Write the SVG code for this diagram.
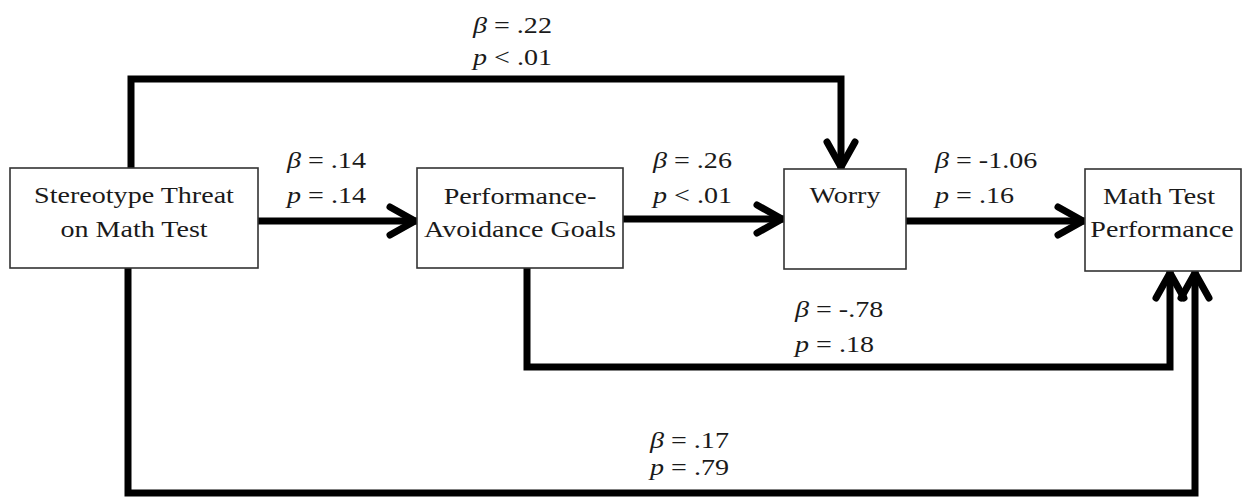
<svg xmlns="http://www.w3.org/2000/svg" width="1243" height="497" viewBox="0 0 1243 497">
<style>
.box{fill:#fff;stroke:#333;stroke-width:1.6}
.t{font-family:"Liberation Serif","Times New Roman",serif;font-size:24px;fill:#1a1a1a}
.c{text-anchor:middle}
.i{font-style:italic}
.edge{fill:none;stroke:#000;stroke-width:7;stroke-linejoin:miter;stroke-linecap:butt}
</style>
<defs>
<marker id="ah" markerUnits="userSpaceOnUse" viewBox="-34 -20 38 40" refX="0" refY="0" markerWidth="38" markerHeight="40" orient="auto" overflow="visible">
<path d="M-27,-14 L-2,0 L-27,14" fill="none" stroke="#000" stroke-width="7" stroke-linejoin="round" stroke-linecap="round"/>
</marker>
</defs>
<rect width="1243" height="497" fill="#fff"/>
<g id="connectors">
<path class="edge" d="M131,168 V79 H841 V169" marker-end="url(#ah)"/>
<path class="edge" d="M258,221 H417" marker-end="url(#ah)"/>
<path class="edge" d="M623,219 H784" marker-end="url(#ah)"/>
<path class="edge" d="M906,221 H1085" marker-end="url(#ah)"/>
<path class="edge" d="M527,268 V367 H1170 V271" marker-end="url(#ah)"/>
<path class="edge" d="M128,268 V493 H1195 V271" marker-end="url(#ah)"/>
</g>
<g id="edge-labels">
<text class="t" transform="translate(473,33) scale(1.17,1)"><tspan class="i">β</tspan> = .22</text>
<text class="t" transform="translate(473,65) scale(1.17,1)"><tspan class="i">p</tspan> &lt; .01</text>
<text class="t" transform="translate(287,168) scale(1.17,1)"><tspan class="i">β</tspan> = .14</text>
<text class="t" transform="translate(287,203) scale(1.17,1)"><tspan class="i">p</tspan> = .14</text>
<text class="t" transform="translate(653,168) scale(1.17,1)"><tspan class="i">β</tspan> = .26</text>
<text class="t" transform="translate(653,203) scale(1.17,1)"><tspan class="i">p</tspan> &lt; .01</text>
<text class="t" transform="translate(935,168) scale(1.17,1)"><tspan class="i">β</tspan> = -1.06</text>
<text class="t" transform="translate(935,203) scale(1.17,1)"><tspan class="i">p</tspan> = .16</text>
<text class="t" transform="translate(795,317) scale(1.17,1)"><tspan class="i">β</tspan> = -.78</text>
<text class="t" transform="translate(795,352) scale(1.17,1)"><tspan class="i">p</tspan> = .18</text>
<text class="t" transform="translate(650,448) scale(1.17,1)"><tspan class="i">β</tspan> = .17</text>
<text class="t" transform="translate(650,475) scale(1.17,1)"><tspan class="i">p</tspan> = .79</text>
</g>
<g id="node-threat">
<rect class="box" x="10" y="168" width="248" height="100"/>
<text class="t c" transform="translate(134,203) scale(1.17,1)">Stereotype Threat</text>
<text class="t c" transform="translate(134,237) scale(1.17,1)">on Math Test</text>
</g>
<g id="node-pag">
<rect class="box" x="417" y="168" width="206" height="100"/>
<text class="t c" transform="translate(520,204) scale(1.17,1)">Performance-</text>
<text class="t c" transform="translate(520,237) scale(1.17,1)">Avoidance Goals</text>
</g>
<g id="node-worry">
<rect class="box" x="784" y="169" width="122" height="100"/>
<text class="t c" transform="translate(845,203) scale(1.17,1)">Worry</text>
</g>
<g id="node-math">
<rect class="box" x="1085" y="169" width="156" height="102"/>
<text class="t c" transform="translate(1159,204) scale(1.17,1)">Math Test</text>
<text class="t c" transform="translate(1162,237) scale(1.17,1)">Performance</text>
</g>
</svg>
